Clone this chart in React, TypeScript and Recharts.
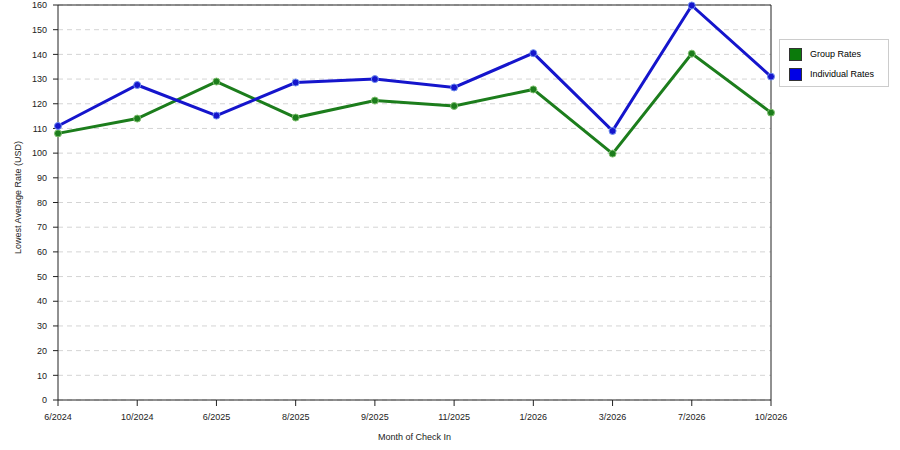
import React from 'react';
import {
  LineChart,
  Line,
  XAxis,
  YAxis,
  CartesianGrid,
  Legend,
  ReferenceLine,
} from 'recharts';

const months = ['6/2024', '10/2024', '6/2025', '8/2025', '9/2025', '11/2025', '1/2026', '3/2026', '7/2026', '10/2026'];
const groupRates = [108, 114, 129, 114.4, 121.3, 119.1, 125.8, 99.8, 140.3, 116.4];
const individualRates = [111, 127.6, 115.2, 128.6, 130, 126.6, 140.5, 109, 159.8, 131];
const yTicks = [0, 10, 20, 30, 40, 50, 60, 70, 80, 90, 100, 110, 120, 130, 140, 150, 160];

const GREEN = '#1c7d1c';
const BLUE = '#1515cc';
const FONT = '"Liberation Sans", Arial, sans-serif';

const data = months.map((m, i) => ({
  month: m,
  group: groupRates[i],
  individual: individualRates[i],
}));

const LegendBox = () => (
  <div
    style={{
      border: '1px solid #ccc',
      width: 110,
      height: 48,
      boxSizing: 'border-box',
      padding: '4px 0 0 9px',
      fontFamily: FONT,
      fontSize: 9,
      color: '#000',
      background: '#fff',
    }}
  >
    {[
      { label: 'Group Rates', color: '#0b7a0b' },
      { label: 'Individual Rates', color: '#0000e6' },
    ].map((e) => (
      <div key={e.label} style={{ display: 'flex', alignItems: 'center', height: 20 }}>
        <span
          style={{
            display: 'inline-block',
            width: 11,
            height: 11,
            background: e.color,
            border: '1px solid #333',
            marginRight: 8,
          }}
        />
        {e.label}
      </div>
    ))}
  </div>
);

const tickStyle = { fontSize: 9, fill: '#222', fontFamily: FONT };

const App = () => (
  <div style={{ position: 'absolute', left: 0, top: 0, background: '#fff' }}>
    <LineChart
      width={900}
      height={450}
      data={data}
      margin={{ top: 5, right: 19, bottom: 10, left: 10 }}
    >
      <CartesianGrid vertical={false} stroke="#d4d4d4" strokeDasharray="5 4" />
      <XAxis
        dataKey="month"
        height={40}
        tick={tickStyle}
        tickLine={{ stroke: '#222' }}
        axisLine={{ stroke: '#222' }}
        tickSize={6}
        tickMargin={8}
        interval={0}
        label={{
          value: 'Month of Check In',
          position: 'insideBottom',
          offset: 0,
          style: { fontSize: 9, fill: '#222', fontFamily: FONT },
        }}
      />
      <YAxis
        domain={[0, 160]}
        ticks={yTicks}
        width={48}
        tick={tickStyle}
        tickLine={{ stroke: '#222' }}
        axisLine={{ stroke: '#222' }}
        tickSize={5}
        tickMargin={6}
        interval={0}
        label={{
          value: 'Lowest Average Rate (USD)',
          angle: -90,
          position: 'insideLeft',
          offset: 8,
          dy: -5,
          style: { fontSize: 9, fill: '#222', fontFamily: FONT, textAnchor: 'middle' },
        }}
      />
      <ReferenceLine y={160} stroke="#222" />
      <ReferenceLine x="10/2026" stroke="#222" />
      <Legend
        layout="vertical"
        align="right"
        verticalAlign="middle"
        width={110}
        content={() => <LegendBox />}
        wrapperStyle={{ left: 779, top: 39, width: 110 }}
      />
      <Line
        dataKey="group"
        name="Group Rates"
        stroke={GREEN}
        strokeWidth={3}
        dot={{ r: 3.5, fill: GREEN, stroke: '#7fbf6f', strokeWidth: 1 }}
        isAnimationActive={false}
      />
      <Line
        dataKey="individual"
        name="Individual Rates"
        stroke={BLUE}
        strokeWidth={3}
        dot={{ r: 3.5, fill: BLUE, stroke: '#6f8fef', strokeWidth: 1 }}
        isAnimationActive={false}
      />
    </LineChart>
  </div>
);

export default App;
